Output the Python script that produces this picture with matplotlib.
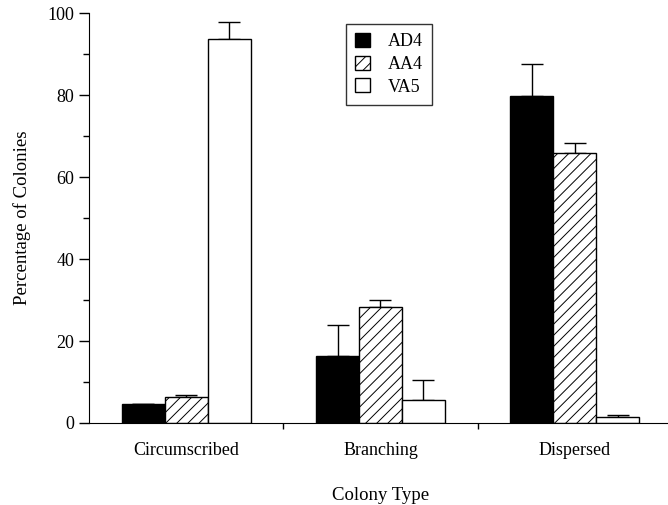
import numpy as np
import matplotlib
matplotlib.use("Agg")
import matplotlib.pyplot as plt

categories = ["Circumscribed", "Branching", "Dispersed"]
series = ["AD4", "AA4", "VA5"]
ad4 = [4.7, 16.3, 79.7]
ad4_err = [0.0, 7.6, 8.0]
aa4 = [6.3, 28.2, 65.9]
aa4_err = [0.5, 1.7, 2.3]
va5 = [93.8, 5.5, 1.4]
va5_err = [4.0, 5.0, 0.6]

plt.rcParams['font.family'] = ['Liberation Serif', 'DejaVu Serif']
plt.rcParams['hatch.linewidth'] = 0.7
plt.rcParams['hatch.color'] = '#606060'

fig = plt.figure(figsize=(6.68, 5.05), dpi=100)
ax = fig.add_axes([0.1332, 0.1624, 0.8728, 0.8116])

x = np.arange(len(categories))
w = 0.221
styles = [dict(color='black', edgecolor='black', hatch=None),
          dict(color='white', edgecolor='black', hatch='///'),
          dict(color='white', edgecolor='black', hatch=None)]
vals = [ad4, aa4, va5]
errs = [ad4_err, aa4_err, va5_err]

for i, (name, v, e, st) in enumerate(zip(series, vals, errs, styles)):
    pos = x + (i - 1) * w
    ax.bar(pos, v, w, label=name, facecolor=st['color'], edgecolor=st['edgecolor'],
           hatch=st['hatch'], linewidth=1.0, zorder=2)
    ax.errorbar(pos, v, yerr=[[0] * len(v), e], fmt='none', ecolor='black',
                elinewidth=1.0, capsize=8, capthick=1.0, zorder=1)

ax.set_xlim(-0.5, 2.5)
ax.set_ylim(0, 100)
ax.spines['top'].set_visible(False)
ax.spines['right'].set_visible(False)
ax.spines['left'].set_bounds(0, 100)

ax.set_yticks([0, 20, 40, 60, 80, 100])
ax.set_yticks([10, 30, 50, 70, 90], minor=True)
ax.tick_params(axis='y', which='major', length=7, width=1, labelsize=13, direction='out')
ax.tick_params(axis='y', which='minor', length=4, width=1, direction='out')

ax.set_xticks(x)
ax.set_xticklabels(categories)
ax.set_xticks([0.5, 1.5], minor=True)
ax.tick_params(axis='x', which='major', length=0, labelsize=13, pad=14)
ax.tick_params(axis='x', which='minor', length=4, width=1, direction='out')

ax.set_ylabel('Percentage of Colonies', fontsize=13.5, labelpad=12)
ax.set_xlabel('Colony Type', fontsize=13.5, labelpad=20)

leg = ax.legend(loc='upper left', bbox_to_anchor=(0.426, 0.995), fontsize=13,
                frameon=True, fancybox=False, edgecolor='black',
                handlelength=0.8, handleheight=0.8, handletextpad=1.0,
                labelspacing=0.3, borderpad=0.5)
leg.get_frame().set_linewidth(1.0)

fig.savefig('out.png', dpi=100)
